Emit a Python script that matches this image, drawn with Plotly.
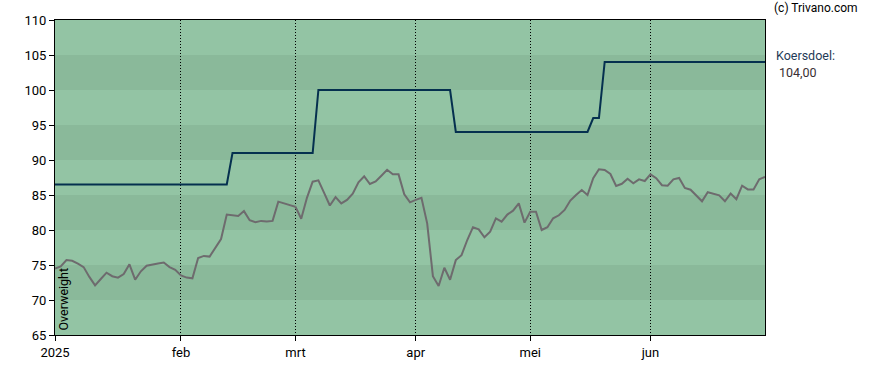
import pandas as pd
import plotly.graph_objects as go

# ---- data ----
holidays = ["2025-01-01", "2025-04-18", "2025-04-21", "2025-05-01"]
trading_days = [d.strftime("%Y-%m-%d") for d in pd.bdate_range("2025-01-02", "2025-06-30")
                if d.strftime("%Y-%m-%d") not in holidays]

price = [74.5, 74.8, 75.7, 75.6, 75.2, 74.7, 73.3, 72.1, 73.0, 73.9,
         73.4, 73.2, 73.7, 75.1, 72.9, 74.1, 74.9, 75.0, 75.2, 75.35,
         74.7, 74.3, 73.5, 73.2, 73.1, 76.0, 76.3, 76.2, 77.4, 78.7,
         82.2, 82.1, 82.0, 82.7, 81.4, 81.1, 81.3, 81.2, 81.3, 84.05,
         83.8, 83.6, 83.3, 81.6, 84.6, 86.9, 87.1, 85.3, 83.5, 84.7,
         83.8, 84.3, 85.2, 86.8, 87.67, 86.57, 86.95, 87.76, 88.6, 87.95,
         87.95, 85.1, 83.95, 84.3, 84.6, 80.95, 73.4, 72.0, 74.6, 72.9,
         75.7, 76.4, 78.57, 80.4, 80.1, 78.96, 79.76, 81.67, 81.2, 82.2,
         82.76, 83.8, 81.05, 82.6, 82.6, 80.0, 80.4, 81.67, 82.1, 82.86,
         84.2, 85.0, 85.7, 85.0, 87.4, 88.67, 88.57, 88.0, 86.3, 86.6,
         87.33, 86.67, 87.24, 87.0, 87.95, 87.4, 86.4, 86.33, 87.24, 87.43,
         86.0, 85.76, 84.95, 84.1, 85.4, 85.2, 84.95, 84.1, 85.2, 84.4,
         86.33, 85.8, 85.8, 87.24, 87.6]

# price target changes (date the new target applies, value)
target_change_dates = ["2025-01-02", "2025-02-14", "2025-03-07", "2025-04-10", "2025-05-19", "2025-05-21"]
target_change_values = [86.5, 91.0, 100.0, 94.0, 96.0, 104.0]

month_tick_dates = ["2025-01-02", "2025-02-03", "2025-03-03", "2025-04-01", "2025-05-02", "2025-06-02"]
month_tick_labels = ["2025", "feb", "mrt", "apr", "mei", "jun"]

y_ticks = [65, 70, 75, 80, 85, 90, 95, 100, 105, 110]
rating_label = "Overweight"
target_label = "Koersdoel:"
target_value_text = "104,00"
copyright_text = "(c) Trivano.com"

# forward-fill the target over trading days
target = []
cur = None
for d in trading_days:
    for cd, cv in zip(target_change_dates, target_change_values):
        if d >= cd:
            cur = cv
    target.append(cur)

# ---- figure ----
LIGHT = "#93C4A4"
DARK = "#8AB99A"
FONT = "Roboto"

fig = go.Figure()
fig.add_trace(go.Scatter(x=trading_days, y=price, mode="lines",
                         line=dict(color="#6E6B6E", width=2), hoverinfo="x+y"))
fig.add_trace(go.Scatter(x=trading_days, y=target, mode="lines",
                         line=dict(color="#05304F", width=2), hoverinfo="x+y"))

shapes = []
for i in range(len(y_ticks) - 1):
    lo, hi = y_ticks[i], y_ticks[i + 1]
    if (lo // 5) % 2 == 0:  # 70-75, 80-85, ...
        shapes.append(dict(type="rect", xref="paper", yref="y", x0=0, x1=1, y0=lo, y1=hi,
                           fillcolor=DARK, line=dict(width=0), layer="below"))

fig.update_layout(
    width=888, height=370,
    margin=dict(l=55, r=123, t=20, b=35, autoexpand=False),
    paper_bgcolor="white", plot_bgcolor=LIGHT,
    showlegend=False,
    font=dict(family=FONT, size=13, color="black"),
    shapes=shapes,
    xaxis=dict(type="category", categoryorder="array", categoryarray=trading_days,
               range=[0, len(trading_days) - 1], automargin=False,
               tickmode="array", tickvals=month_tick_dates, ticktext=month_tick_labels,
               ticks="outside", ticklen=5, tickcolor="black",
               showgrid=True, gridcolor="black", griddash="1px,2px", gridwidth=1,
               showline=True, linecolor="black", linewidth=1, mirror=True,
               zeroline=False, tickfont=dict(size=13, family=FONT)),
    yaxis=dict(range=[65, 110], tickmode="array", tickvals=y_ticks, automargin=False,
               ticks="outside", ticklen=5, tickcolor="black",
               showgrid=False, showline=True, linecolor="black", linewidth=1, mirror=True,
               zeroline=False, tickfont=dict(size=13, family=FONT)),
    annotations=[
        dict(text=copyright_text, xref="paper", yref="paper", x=(772 - 55) / 710, y=(335 - 8) / 315,
             xanchor="left", yanchor="middle", showarrow=False,
             font=dict(size=12, family=FONT, color="black")),
        dict(text=target_label, xref="paper", yref="paper", x=(774 - 55) / 710, y=(335 - 55) / 315,
             xanchor="left", yanchor="middle", showarrow=False,
             font=dict(size=12.5, family=FONT, color="#1F3B57")),
        dict(text=target_value_text, xref="paper", yref="paper", x=(777 - 55) / 710, y=(335 - 72) / 315,
             xanchor="left", yanchor="middle", showarrow=False,
             font=dict(size=12.5, family=FONT, color="#3A2E33")),
        dict(text=rating_label, xref="paper", yref="paper", x=(63 - 55) / 710, y=2 / 315,
             xanchor="center", yanchor="bottom", textangle=-90, showarrow=False,
             font=dict(size=12.5, family=FONT, color="black")),
    ],
)

fig.write_html("out.html", config={"displayModeBar": False},
               post_script="document.body.style.margin='0';document.body.style.padding='0';")
